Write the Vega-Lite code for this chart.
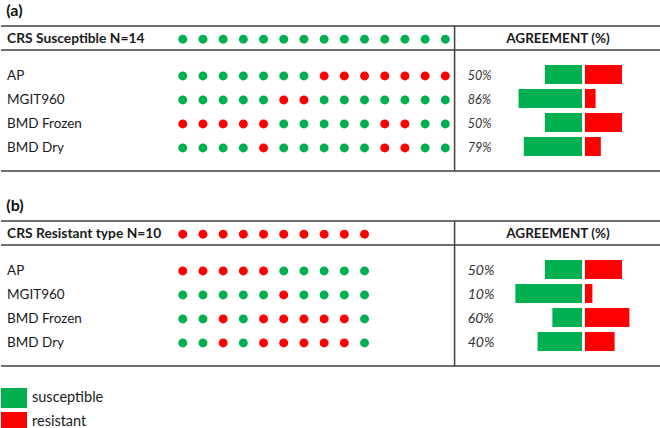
{
  "$schema": "https://vega.github.io/schema/vega-lite/v6.json",
  "padding": {"top": 3, "left": 0, "right": 0, "bottom": 0},
  "background": "white",
  "config": {
    "view": {"stroke": null},
    "axis": {"disable": true},
    "font": "Lato",
    "text": {"font": "Lato", "fontSize": 13.5, "color": "#1a1a1a"},
    "title": {"font": "Lato"}
  },
  "datasets": {
    "rows": [
      {"panel": "a", "row": "header", "label": "CRS Susceptible N=14", "column_title": "AGREEMENT (%)"},
      {"panel": "a", "row": "AP", "label": "AP", "agreement": 0.5, "pct_susceptible": 50, "pct_resistant": 50},
      {"panel": "a", "row": "MGIT960", "label": "MGIT960", "agreement": 0.857, "pct_susceptible": 85.7, "pct_resistant": 14.3},
      {"panel": "a", "row": "BMD Frozen", "label": "BMD Frozen", "agreement": 0.5, "pct_susceptible": 50, "pct_resistant": 50},
      {"panel": "a", "row": "BMD Dry", "label": "BMD Dry", "agreement": 0.786, "pct_susceptible": 78.6, "pct_resistant": 21.4},
      {"panel": "b", "row": "header", "label": "CRS Resistant type N=10", "column_title": "AGREEMENT (%)"},
      {"panel": "b", "row": "AP", "label": "AP", "agreement": 0.5, "pct_susceptible": 50, "pct_resistant": 50},
      {"panel": "b", "row": "MGIT960", "label": "MGIT960", "agreement": 0.1, "pct_susceptible": 90, "pct_resistant": 10},
      {"panel": "b", "row": "BMD Frozen", "label": "BMD Frozen", "agreement": 0.6, "pct_susceptible": 40, "pct_resistant": 60},
      {"panel": "b", "row": "BMD Dry", "label": "BMD Dry", "agreement": 0.4, "pct_susceptible": 60, "pct_resistant": 40}
    ],
    "dots": [
      {"panel": "a", "row": "header", "i": 1, "result": "susceptible"},
      {"panel": "a", "row": "header", "i": 2, "result": "susceptible"},
      {"panel": "a", "row": "header", "i": 3, "result": "susceptible"},
      {"panel": "a", "row": "header", "i": 4, "result": "susceptible"},
      {"panel": "a", "row": "header", "i": 5, "result": "susceptible"},
      {"panel": "a", "row": "header", "i": 6, "result": "susceptible"},
      {"panel": "a", "row": "header", "i": 7, "result": "susceptible"},
      {"panel": "a", "row": "header", "i": 8, "result": "susceptible"},
      {"panel": "a", "row": "header", "i": 9, "result": "susceptible"},
      {"panel": "a", "row": "header", "i": 10, "result": "susceptible"},
      {"panel": "a", "row": "header", "i": 11, "result": "susceptible"},
      {"panel": "a", "row": "header", "i": 12, "result": "susceptible"},
      {"panel": "a", "row": "header", "i": 13, "result": "susceptible"},
      {"panel": "a", "row": "header", "i": 14, "result": "susceptible"},
      {"panel": "a", "row": "AP", "i": 1, "result": "susceptible"},
      {"panel": "a", "row": "AP", "i": 2, "result": "susceptible"},
      {"panel": "a", "row": "AP", "i": 3, "result": "susceptible"},
      {"panel": "a", "row": "AP", "i": 4, "result": "susceptible"},
      {"panel": "a", "row": "AP", "i": 5, "result": "susceptible"},
      {"panel": "a", "row": "AP", "i": 6, "result": "susceptible"},
      {"panel": "a", "row": "AP", "i": 7, "result": "susceptible"},
      {"panel": "a", "row": "AP", "i": 8, "result": "resistant"},
      {"panel": "a", "row": "AP", "i": 9, "result": "resistant"},
      {"panel": "a", "row": "AP", "i": 10, "result": "resistant"},
      {"panel": "a", "row": "AP", "i": 11, "result": "resistant"},
      {"panel": "a", "row": "AP", "i": 12, "result": "resistant"},
      {"panel": "a", "row": "AP", "i": 13, "result": "resistant"},
      {"panel": "a", "row": "AP", "i": 14, "result": "resistant"},
      {"panel": "a", "row": "MGIT960", "i": 1, "result": "susceptible"},
      {"panel": "a", "row": "MGIT960", "i": 2, "result": "susceptible"},
      {"panel": "a", "row": "MGIT960", "i": 3, "result": "susceptible"},
      {"panel": "a", "row": "MGIT960", "i": 4, "result": "susceptible"},
      {"panel": "a", "row": "MGIT960", "i": 5, "result": "susceptible"},
      {"panel": "a", "row": "MGIT960", "i": 6, "result": "resistant"},
      {"panel": "a", "row": "MGIT960", "i": 7, "result": "resistant"},
      {"panel": "a", "row": "MGIT960", "i": 8, "result": "susceptible"},
      {"panel": "a", "row": "MGIT960", "i": 9, "result": "susceptible"},
      {"panel": "a", "row": "MGIT960", "i": 10, "result": "susceptible"},
      {"panel": "a", "row": "MGIT960", "i": 11, "result": "susceptible"},
      {"panel": "a", "row": "MGIT960", "i": 12, "result": "susceptible"},
      {"panel": "a", "row": "MGIT960", "i": 13, "result": "susceptible"},
      {"panel": "a", "row": "MGIT960", "i": 14, "result": "susceptible"},
      {"panel": "a", "row": "BMD Frozen", "i": 1, "result": "resistant"},
      {"panel": "a", "row": "BMD Frozen", "i": 2, "result": "resistant"},
      {"panel": "a", "row": "BMD Frozen", "i": 3, "result": "resistant"},
      {"panel": "a", "row": "BMD Frozen", "i": 4, "result": "resistant"},
      {"panel": "a", "row": "BMD Frozen", "i": 5, "result": "resistant"},
      {"panel": "a", "row": "BMD Frozen", "i": 6, "result": "susceptible"},
      {"panel": "a", "row": "BMD Frozen", "i": 7, "result": "susceptible"},
      {"panel": "a", "row": "BMD Frozen", "i": 8, "result": "susceptible"},
      {"panel": "a", "row": "BMD Frozen", "i": 9, "result": "susceptible"},
      {"panel": "a", "row": "BMD Frozen", "i": 10, "result": "susceptible"},
      {"panel": "a", "row": "BMD Frozen", "i": 11, "result": "resistant"},
      {"panel": "a", "row": "BMD Frozen", "i": 12, "result": "resistant"},
      {"panel": "a", "row": "BMD Frozen", "i": 13, "result": "susceptible"},
      {"panel": "a", "row": "BMD Frozen", "i": 14, "result": "susceptible"},
      {"panel": "a", "row": "BMD Dry", "i": 1, "result": "susceptible"},
      {"panel": "a", "row": "BMD Dry", "i": 2, "result": "susceptible"},
      {"panel": "a", "row": "BMD Dry", "i": 3, "result": "susceptible"},
      {"panel": "a", "row": "BMD Dry", "i": 4, "result": "susceptible"},
      {"panel": "a", "row": "BMD Dry", "i": 5, "result": "resistant"},
      {"panel": "a", "row": "BMD Dry", "i": 6, "result": "susceptible"},
      {"panel": "a", "row": "BMD Dry", "i": 7, "result": "susceptible"},
      {"panel": "a", "row": "BMD Dry", "i": 8, "result": "susceptible"},
      {"panel": "a", "row": "BMD Dry", "i": 9, "result": "susceptible"},
      {"panel": "a", "row": "BMD Dry", "i": 10, "result": "susceptible"},
      {"panel": "a", "row": "BMD Dry", "i": 11, "result": "resistant"},
      {"panel": "a", "row": "BMD Dry", "i": 12, "result": "resistant"},
      {"panel": "a", "row": "BMD Dry", "i": 13, "result": "susceptible"},
      {"panel": "a", "row": "BMD Dry", "i": 14, "result": "susceptible"},
      {"panel": "b", "row": "header", "i": 1, "result": "resistant"},
      {"panel": "b", "row": "header", "i": 2, "result": "resistant"},
      {"panel": "b", "row": "header", "i": 3, "result": "resistant"},
      {"panel": "b", "row": "header", "i": 4, "result": "resistant"},
      {"panel": "b", "row": "header", "i": 5, "result": "resistant"},
      {"panel": "b", "row": "header", "i": 6, "result": "resistant"},
      {"panel": "b", "row": "header", "i": 7, "result": "resistant"},
      {"panel": "b", "row": "header", "i": 8, "result": "resistant"},
      {"panel": "b", "row": "header", "i": 9, "result": "resistant"},
      {"panel": "b", "row": "header", "i": 10, "result": "resistant"},
      {"panel": "b", "row": "AP", "i": 1, "result": "resistant"},
      {"panel": "b", "row": "AP", "i": 2, "result": "resistant"},
      {"panel": "b", "row": "AP", "i": 3, "result": "resistant"},
      {"panel": "b", "row": "AP", "i": 4, "result": "resistant"},
      {"panel": "b", "row": "AP", "i": 5, "result": "resistant"},
      {"panel": "b", "row": "AP", "i": 6, "result": "susceptible"},
      {"panel": "b", "row": "AP", "i": 7, "result": "susceptible"},
      {"panel": "b", "row": "AP", "i": 8, "result": "susceptible"},
      {"panel": "b", "row": "AP", "i": 9, "result": "susceptible"},
      {"panel": "b", "row": "AP", "i": 10, "result": "susceptible"},
      {"panel": "b", "row": "MGIT960", "i": 1, "result": "susceptible"},
      {"panel": "b", "row": "MGIT960", "i": 2, "result": "susceptible"},
      {"panel": "b", "row": "MGIT960", "i": 3, "result": "susceptible"},
      {"panel": "b", "row": "MGIT960", "i": 4, "result": "susceptible"},
      {"panel": "b", "row": "MGIT960", "i": 5, "result": "susceptible"},
      {"panel": "b", "row": "MGIT960", "i": 6, "result": "resistant"},
      {"panel": "b", "row": "MGIT960", "i": 7, "result": "susceptible"},
      {"panel": "b", "row": "MGIT960", "i": 8, "result": "susceptible"},
      {"panel": "b", "row": "MGIT960", "i": 9, "result": "susceptible"},
      {"panel": "b", "row": "MGIT960", "i": 10, "result": "susceptible"},
      {"panel": "b", "row": "BMD Frozen", "i": 1, "result": "susceptible"},
      {"panel": "b", "row": "BMD Frozen", "i": 2, "result": "susceptible"},
      {"panel": "b", "row": "BMD Frozen", "i": 3, "result": "resistant"},
      {"panel": "b", "row": "BMD Frozen", "i": 4, "result": "susceptible"},
      {"panel": "b", "row": "BMD Frozen", "i": 5, "result": "resistant"},
      {"panel": "b", "row": "BMD Frozen", "i": 6, "result": "resistant"},
      {"panel": "b", "row": "BMD Frozen", "i": 7, "result": "resistant"},
      {"panel": "b", "row": "BMD Frozen", "i": 8, "result": "resistant"},
      {"panel": "b", "row": "BMD Frozen", "i": 9, "result": "resistant"},
      {"panel": "b", "row": "BMD Frozen", "i": 10, "result": "susceptible"},
      {"panel": "b", "row": "BMD Dry", "i": 1, "result": "susceptible"},
      {"panel": "b", "row": "BMD Dry", "i": 2, "result": "susceptible"},
      {"panel": "b", "row": "BMD Dry", "i": 3, "result": "resistant"},
      {"panel": "b", "row": "BMD Dry", "i": 4, "result": "susceptible"},
      {"panel": "b", "row": "BMD Dry", "i": 5, "result": "resistant"},
      {"panel": "b", "row": "BMD Dry", "i": 6, "result": "resistant"},
      {"panel": "b", "row": "BMD Dry", "i": 7, "result": "resistant"},
      {"panel": "b", "row": "BMD Dry", "i": 8, "result": "resistant"},
      {"panel": "b", "row": "BMD Dry", "i": 9, "result": "resistant"},
      {"panel": "b", "row": "BMD Dry", "i": 10, "result": "susceptible"}
    ]
  },
  "spacing": 26,
  "resolve": {"scale": {"x": "independent", "y": "independent"}},
  "vconcat": [
    {
      "title": {"text": "(a)", "anchor": "start", "dx": 6, "fontSize": 16, "fontWeight": "bold", "color": "#111111", "offset": 6},
      "width": 660,
      "height": 145,
      "resolve": {"scale": {"x": "independent"}},
      "layer": [
        {
          "layer": [
            {
              "data": {"name": "rows"},
              "transform": [{"filter": "datum.panel === 'a' && datum.row === 'header'"}],
              "mark": {"type": "rule", "color": "#404040", "strokeWidth": 1.5},
              "encoding": {"y": {"field": "row", "type": "nominal", "bandPosition": -0.52, "scale": {"type": "band", "domain": ["header", "AP", "MGIT960", "BMD Frozen", "BMD Dry"], "paddingInner": 0, "paddingOuter": 0.52}}}
            },
            {
              "data": {"name": "rows"},
              "transform": [{"filter": "datum.panel === 'a' && datum.row === 'header'"}],
              "mark": {"type": "rule", "color": "#404040", "strokeWidth": 1.5},
              "encoding": {"y": {"field": "row", "type": "nominal", "bandPosition": 0.48, "scale": {"type": "band", "domain": ["header", "AP", "MGIT960", "BMD Frozen", "BMD Dry"], "paddingInner": 0, "paddingOuter": 0.52}}}
            },
            {
              "data": {"name": "rows"},
              "transform": [{"filter": "datum.panel === 'a' && datum.row === 'BMD Dry'"}],
              "mark": {"type": "rule", "color": "#404040", "strokeWidth": 1.5},
              "encoding": {"y": {"field": "row", "type": "nominal", "bandPosition": 1.52, "scale": {"type": "band", "domain": ["header", "AP", "MGIT960", "BMD Frozen", "BMD Dry"], "paddingInner": 0, "paddingOuter": 0.52}}}
            },
            {
              "data": {"name": "rows"},
              "transform": [{"filter": "datum.panel === 'a' && datum.row === 'header'"}],
              "mark": {"type": "rule", "color": "#404040", "strokeWidth": 1.5},
              "encoding": {"x": {"datum": 14.46, "type": "quantitative", "scale": {"domain": [-8, 24.68], "nice": false, "zero": false}}}
            },
            {
              "data": {"name": "rows"},
              "transform": [{"filter": "datum.panel === 'a' && datum.row === 'header'"}],
              "mark": {"type": "text", "align": "left", "baseline": "middle", "fontWeight": "bold", "fontSize": 13.8},
              "encoding": {
                "x": {"datum": -7.7, "type": "quantitative", "scale": {"domain": [-8, 24.68], "nice": false, "zero": false}},
                "y": {"field": "row", "type": "nominal", "bandPosition": 0.03, "scale": {"type": "band", "domain": ["header", "AP", "MGIT960", "BMD Frozen", "BMD Dry"], "paddingInner": 0, "paddingOuter": 0.52}},
                "text": {"field": "label", "type": "nominal"}
              }
            },
            {
              "data": {"name": "rows"},
              "transform": [{"filter": "datum.panel === 'a' && datum.row === 'header'"}],
              "mark": {"type": "text", "align": "center", "baseline": "middle", "fontWeight": "bold", "fontSize": 13.5},
              "encoding": {
                "x": {"datum": 19.58, "type": "quantitative", "scale": {"domain": [-8, 24.68], "nice": false, "zero": false}},
                "y": {"field": "row", "type": "nominal", "bandPosition": 0.03, "scale": {"type": "band", "domain": ["header", "AP", "MGIT960", "BMD Frozen", "BMD Dry"], "paddingInner": 0, "paddingOuter": 0.52}},
                "text": {"field": "column_title", "type": "nominal"}
              }
            },
            {
              "data": {"name": "rows"},
              "transform": [{"filter": "datum.panel === 'a' && datum.row !== 'header'"}],
              "mark": {"type": "text", "align": "left", "baseline": "middle"},
              "encoding": {
                "x": {"datum": -7.7, "type": "quantitative", "scale": {"domain": [-8, 24.68], "nice": false, "zero": false}},
                "y": {"field": "row", "type": "nominal", "bandPosition": 0.56, "scale": {"type": "band", "domain": ["header", "AP", "MGIT960", "BMD Frozen", "BMD Dry"], "paddingInner": 0, "paddingOuter": 0.52}},
                "text": {"field": "label", "type": "nominal"}
              }
            },
            {
              "data": {"name": "rows"},
              "transform": [{"filter": "datum.panel === 'a' && datum.row !== 'header'"}],
              "mark": {"type": "text", "align": "left", "baseline": "middle", "fontStyle": "italic", "color": "#333333", "fontSize": 12.5},
              "encoding": {
                "x": {"datum": 15.11, "type": "quantitative", "scale": {"domain": [-8, 24.68], "nice": false, "zero": false}},
                "y": {"field": "row", "type": "nominal", "bandPosition": 0.56, "scale": {"type": "band", "domain": ["header", "AP", "MGIT960", "BMD Frozen", "BMD Dry"], "paddingInner": 0, "paddingOuter": 0.52}},
                "text": {"field": "agreement", "type": "quantitative", "format": ".0%"}
              }
            },
            {
              "data": {"name": "dots"},
              "transform": [{"filter": "datum.panel === 'a' && datum.row === 'header'"}],
              "mark": {"type": "circle", "size": 80, "opacity": 1},
              "encoding": {
                "x": {"field": "i", "type": "quantitative", "scale": {"domain": [-8, 24.68], "nice": false, "zero": false}},
                "y": {"field": "row", "type": "nominal", "bandPosition": 0.03, "scale": {"type": "band", "domain": ["header", "AP", "MGIT960", "BMD Frozen", "BMD Dry"], "paddingInner": 0, "paddingOuter": 0.52}},
                "color": {"field": "result", "type": "nominal", "scale": {"domain": ["susceptible", "resistant"], "range": ["#00B050", "#FF0000"]}, "legend": {"orient": "none", "legendX": 0, "legendY": 359, "title": null, "symbolType": "M-1,-0.77H1V0.77H-1Z", "symbolSize": 676, "symbolStrokeWidth": 0, "symbolOpacity": 1, "labelFont": "Lato", "labelFontSize": 14.5, "labelColor": "#1a1a1a", "labelOffset": 5, "rowPadding": -10, "padding": 0}}
              }
            },
            {
              "data": {"name": "dots"},
              "transform": [{"filter": "datum.panel === 'a' && datum.row !== 'header'"}],
              "mark": {"type": "circle", "size": 80, "opacity": 1},
              "encoding": {
                "x": {"field": "i", "type": "quantitative", "scale": {"domain": [-8, 24.68], "nice": false, "zero": false}},
                "y": {"field": "row", "type": "nominal", "bandPosition": 0.56, "scale": {"type": "band", "domain": ["header", "AP", "MGIT960", "BMD Frozen", "BMD Dry"], "paddingInner": 0, "paddingOuter": 0.52}},
                "color": {"field": "result", "type": "nominal"}
              }
            }
          ]
        },
        {
          "data": {"name": "rows"},
          "transform": [{"filter": "datum.panel === 'a' && datum.row !== 'header'"}],
          "mark": {"type": "bar", "height": {"band": 0.79}},
          "encoding": {
            "x": {"field": "pct_susceptible", "type": "quantitative", "scale": {"domain": [-106.8, 785.1], "reverse": true, "nice": false, "zero": false}},
            "x2": {"datum": 0},
            "y": {"field": "row", "type": "nominal", "scale": {"type": "band", "domain": ["header", "AP", "MGIT960", "BMD Frozen", "BMD Dry"], "paddingInner": 0, "paddingOuter": 0.52}},
            "color": {"datum": "susceptible"}
          }
        },
        {
          "data": {"name": "rows"},
          "transform": [{"filter": "datum.panel === 'a' && datum.row !== 'header'"}],
          "mark": {"type": "bar", "height": {"band": 0.79}},
          "encoding": {
            "x": {"field": "pct_resistant", "type": "quantitative", "scale": {"domain": [-789.2, 102.7], "nice": false, "zero": false}},
            "x2": {"datum": 0},
            "y": {"field": "row", "type": "nominal", "scale": {"type": "band", "domain": ["header", "AP", "MGIT960", "BMD Frozen", "BMD Dry"], "paddingInner": 0, "paddingOuter": 0.52}},
            "color": {"datum": "resistant"}
          }
        }
      ]
    },
    {
      "title": {"text": "(b)", "anchor": "start", "dx": 6, "fontSize": 16, "fontWeight": "bold", "color": "#111111", "offset": 6},
      "width": 660,
      "height": 145,
      "resolve": {"scale": {"x": "independent"}},
      "layer": [
        {
          "layer": [
            {
              "data": {"name": "rows"},
              "transform": [{"filter": "datum.panel === 'b' && datum.row === 'header'"}],
              "mark": {"type": "rule", "color": "#404040", "strokeWidth": 1.5},
              "encoding": {"y": {"field": "row", "type": "nominal", "bandPosition": -0.52, "scale": {"type": "band", "domain": ["header", "AP", "MGIT960", "BMD Frozen", "BMD Dry"], "paddingInner": 0, "paddingOuter": 0.52}}}
            },
            {
              "data": {"name": "rows"},
              "transform": [{"filter": "datum.panel === 'b' && datum.row === 'header'"}],
              "mark": {"type": "rule", "color": "#404040", "strokeWidth": 1.5},
              "encoding": {"y": {"field": "row", "type": "nominal", "bandPosition": 0.48, "scale": {"type": "band", "domain": ["header", "AP", "MGIT960", "BMD Frozen", "BMD Dry"], "paddingInner": 0, "paddingOuter": 0.52}}}
            },
            {
              "data": {"name": "rows"},
              "transform": [{"filter": "datum.panel === 'b' && datum.row === 'BMD Dry'"}],
              "mark": {"type": "rule", "color": "#404040", "strokeWidth": 1.5},
              "encoding": {"y": {"field": "row", "type": "nominal", "bandPosition": 1.52, "scale": {"type": "band", "domain": ["header", "AP", "MGIT960", "BMD Frozen", "BMD Dry"], "paddingInner": 0, "paddingOuter": 0.52}}}
            },
            {
              "data": {"name": "rows"},
              "transform": [{"filter": "datum.panel === 'b' && datum.row === 'header'"}],
              "mark": {"type": "rule", "color": "#404040", "strokeWidth": 1.5},
              "encoding": {"x": {"datum": 14.46, "type": "quantitative", "scale": {"domain": [-8, 24.68], "nice": false, "zero": false}}}
            },
            {
              "data": {"name": "rows"},
              "transform": [{"filter": "datum.panel === 'b' && datum.row === 'header'"}],
              "mark": {"type": "text", "align": "left", "baseline": "middle", "fontWeight": "bold", "fontSize": 13.8},
              "encoding": {
                "x": {"datum": -7.7, "type": "quantitative", "scale": {"domain": [-8, 24.68], "nice": false, "zero": false}},
                "y": {"field": "row", "type": "nominal", "bandPosition": 0.03, "scale": {"type": "band", "domain": ["header", "AP", "MGIT960", "BMD Frozen", "BMD Dry"], "paddingInner": 0, "paddingOuter": 0.52}},
                "text": {"field": "label", "type": "nominal"}
              }
            },
            {
              "data": {"name": "rows"},
              "transform": [{"filter": "datum.panel === 'b' && datum.row === 'header'"}],
              "mark": {"type": "text", "align": "center", "baseline": "middle", "fontWeight": "bold", "fontSize": 13.5},
              "encoding": {
                "x": {"datum": 19.58, "type": "quantitative", "scale": {"domain": [-8, 24.68], "nice": false, "zero": false}},
                "y": {"field": "row", "type": "nominal", "bandPosition": 0.03, "scale": {"type": "band", "domain": ["header", "AP", "MGIT960", "BMD Frozen", "BMD Dry"], "paddingInner": 0, "paddingOuter": 0.52}},
                "text": {"field": "column_title", "type": "nominal"}
              }
            },
            {
              "data": {"name": "rows"},
              "transform": [{"filter": "datum.panel === 'b' && datum.row !== 'header'"}],
              "mark": {"type": "text", "align": "left", "baseline": "middle"},
              "encoding": {
                "x": {"datum": -7.7, "type": "quantitative", "scale": {"domain": [-8, 24.68], "nice": false, "zero": false}},
                "y": {"field": "row", "type": "nominal", "bandPosition": 0.56, "scale": {"type": "band", "domain": ["header", "AP", "MGIT960", "BMD Frozen", "BMD Dry"], "paddingInner": 0, "paddingOuter": 0.52}},
                "text": {"field": "label", "type": "nominal"}
              }
            },
            {
              "data": {"name": "rows"},
              "transform": [{"filter": "datum.panel === 'b' && datum.row !== 'header'"}],
              "mark": {"type": "text", "align": "left", "baseline": "middle", "fontStyle": "italic", "color": "#333333", "fontSize": 14},
              "encoding": {
                "x": {"datum": 15.11, "type": "quantitative", "scale": {"domain": [-8, 24.68], "nice": false, "zero": false}},
                "y": {"field": "row", "type": "nominal", "bandPosition": 0.56, "scale": {"type": "band", "domain": ["header", "AP", "MGIT960", "BMD Frozen", "BMD Dry"], "paddingInner": 0, "paddingOuter": 0.52}},
                "text": {"field": "agreement", "type": "quantitative", "format": ".0%"}
              }
            },
            {
              "data": {"name": "dots"},
              "transform": [{"filter": "datum.panel === 'b' && datum.row === 'header'"}],
              "mark": {"type": "circle", "size": 80, "opacity": 1},
              "encoding": {
                "x": {"field": "i", "type": "quantitative", "scale": {"domain": [-8, 24.68], "nice": false, "zero": false}},
                "y": {"field": "row", "type": "nominal", "bandPosition": 0.03, "scale": {"type": "band", "domain": ["header", "AP", "MGIT960", "BMD Frozen", "BMD Dry"], "paddingInner": 0, "paddingOuter": 0.52}},
                "color": {"field": "result", "type": "nominal"}
              }
            },
            {
              "data": {"name": "dots"},
              "transform": [{"filter": "datum.panel === 'b' && datum.row !== 'header'"}],
              "mark": {"type": "circle", "size": 80, "opacity": 1},
              "encoding": {
                "x": {"field": "i", "type": "quantitative", "scale": {"domain": [-8, 24.68], "nice": false, "zero": false}},
                "y": {"field": "row", "type": "nominal", "bandPosition": 0.56, "scale": {"type": "band", "domain": ["header", "AP", "MGIT960", "BMD Frozen", "BMD Dry"], "paddingInner": 0, "paddingOuter": 0.52}},
                "color": {"field": "result", "type": "nominal"}
              }
            }
          ]
        },
        {
          "data": {"name": "rows"},
          "transform": [{"filter": "datum.panel === 'b' && datum.row !== 'header'"}],
          "mark": {"type": "bar", "height": {"band": 0.79}},
          "encoding": {
            "x": {"field": "pct_susceptible", "type": "quantitative", "scale": {"domain": [-106.8, 785.1], "reverse": true, "nice": false, "zero": false}},
            "x2": {"datum": 0},
            "y": {"field": "row", "type": "nominal", "scale": {"type": "band", "domain": ["header", "AP", "MGIT960", "BMD Frozen", "BMD Dry"], "paddingInner": 0, "paddingOuter": 0.52}},
            "color": {"datum": "susceptible"}
          }
        },
        {
          "data": {"name": "rows"},
          "transform": [{"filter": "datum.panel === 'b' && datum.row !== 'header'"}],
          "mark": {"type": "bar", "height": {"band": 0.79}},
          "encoding": {
            "x": {"field": "pct_resistant", "type": "quantitative", "scale": {"domain": [-789.2, 102.7], "nice": false, "zero": false}},
            "x2": {"datum": 0},
            "y": {"field": "row", "type": "nominal", "scale": {"type": "band", "domain": ["header", "AP", "MGIT960", "BMD Frozen", "BMD Dry"], "paddingInner": 0, "paddingOuter": 0.52}},
            "color": {"datum": "resistant"}
          }
        }
      ]
    }
  ]
}
